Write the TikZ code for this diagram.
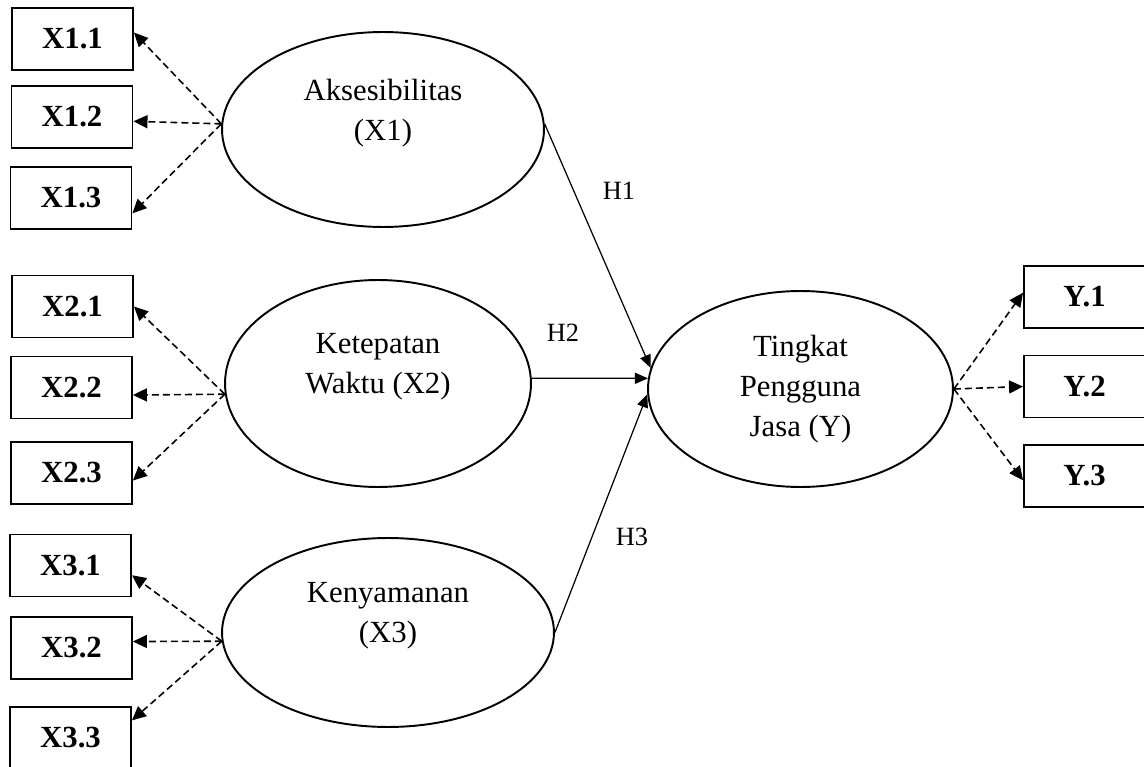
\documentclass[tikz,border=0pt]{standalone}
\usepackage{fontspec}
\setmainfont{Liberation Serif}
\usetikzlibrary{
    arrows.meta,
    shapes.geometric
}

\begin{document}
\begin{tikzpicture}[
    x=0.02cm, y=-0.02cm,
    % Estilos de Nodos
    latent/.style={ellipse, draw=black, line width=1.1pt, inner sep=0pt, align=center,
                   font=\fontsize{17.5}{22.8}\selectfont},
    indicator/.style={rectangle, draw=black, line width=1.1pt, inner sep=0pt,
                   minimum width=2.42cm, minimum height=1.24cm,
                   font=\fontsize{17.5}{21}\selectfont\bfseries},
    hyp/.style={font=\fontsize{15}{18}\selectfont},
    % Estilos de Flechas
    arrow/.style={-{Triangle[length=0.26cm, width=0.22cm]}, line width=0.7pt, draw=black},
    load_arrow/.style={-{Triangle[length=0.28cm, width=0.26cm]}, line width=0.9pt, draw=black,
                   dash pattern=on 0.14cm off 0.08cm}
]
\useasboundingbox (0,0) rectangle (1144,767);

% --- Variables latentes ---
\node[latent, minimum width=6.44cm, minimum height=3.90cm] (aks) at (383,129.5) {Aksesibilitas\\(X1)\\~};
\node[latent, minimum width=6.12cm, minimum height=4.14cm] (ket) at (378,383.5) {Ketepatan\\Waktu (X2)\\~};
\node[latent, minimum width=6.64cm, minimum height=3.78cm] (ken) at (388,632.5) {Kenyamanan\\(X3)\\~};
\node[latent, minimum width=6.10cm, minimum height=3.92cm] (tpj) at (800.5,389) {Tingkat\\Pengguna\\Jasa (Y)};

% --- Indicadores X1 ---
\node[indicator] (x11) at (72.5,39) {X1.1};
\node[indicator] (x12) at (72,117) {X1.2};
\node[indicator] (x13) at (71,198) {X1.3};

% --- Indicadores X2 ---
\node[indicator] (x21) at (72.5,306.5) {X2.1};
\node[indicator] (x22) at (71.5,387.5) {X2.2};
\node[indicator] (x23) at (71.5,473) {X2.3};

% --- Indicadores X3 ---
\node[indicator] (x31) at (70.5,565.5) {X3.1};
\node[indicator] (x32) at (71.5,648) {X3.2};
\node[indicator] (x33) at (70.5,738) {X3.3};

% --- Indicadores Y ---
\node[indicator] (y1) at (1084.5,297) {Y.1};
\node[indicator] (y2) at (1084.5,386.5) {Y.2};
\node[indicator] (y3) at (1084.5,476) {Y.3};

% --- Flechas de carga (latente -> indicador) ---
\draw[load_arrow] (aks.178) -- (x11.6);
\draw[load_arrow] (aks.178) -- (x12.356);
\draw[load_arrow] (aks.178) -- (x13.346);

\draw[load_arrow] (ket.184) -- (x21.east);
\draw[load_arrow] (ket.184) -- (x22.353);
\draw[load_arrow] (ket.184) -- (x23.353);

\draw[load_arrow] (ken.183) -- (x31.351);
\draw[load_arrow] (ken.183) -- (x32.6);
\draw[load_arrow] (ken.183) -- (x33.16);

\draw[load_arrow] (tpj.east) -- (y1.176);
\draw[load_arrow] (tpj.east) -- (y2.west);
\draw[load_arrow] (tpj.east) -- (y3.184);

% --- Hipotesis (X -> Y) ---
\draw[arrow] (aks.2) -- (tpj.172);
\draw[arrow] (ket.2) -- (tpj.176);
\draw[arrow] (ken.east) -- (tpj.182);

\node[hyp] (h1) at (619,191) {H1};
\node[hyp] (h2) at (563,333) {H2};
\node[hyp] (h3) at (632,537) {H3};

\end{tikzpicture}
\end{document}
